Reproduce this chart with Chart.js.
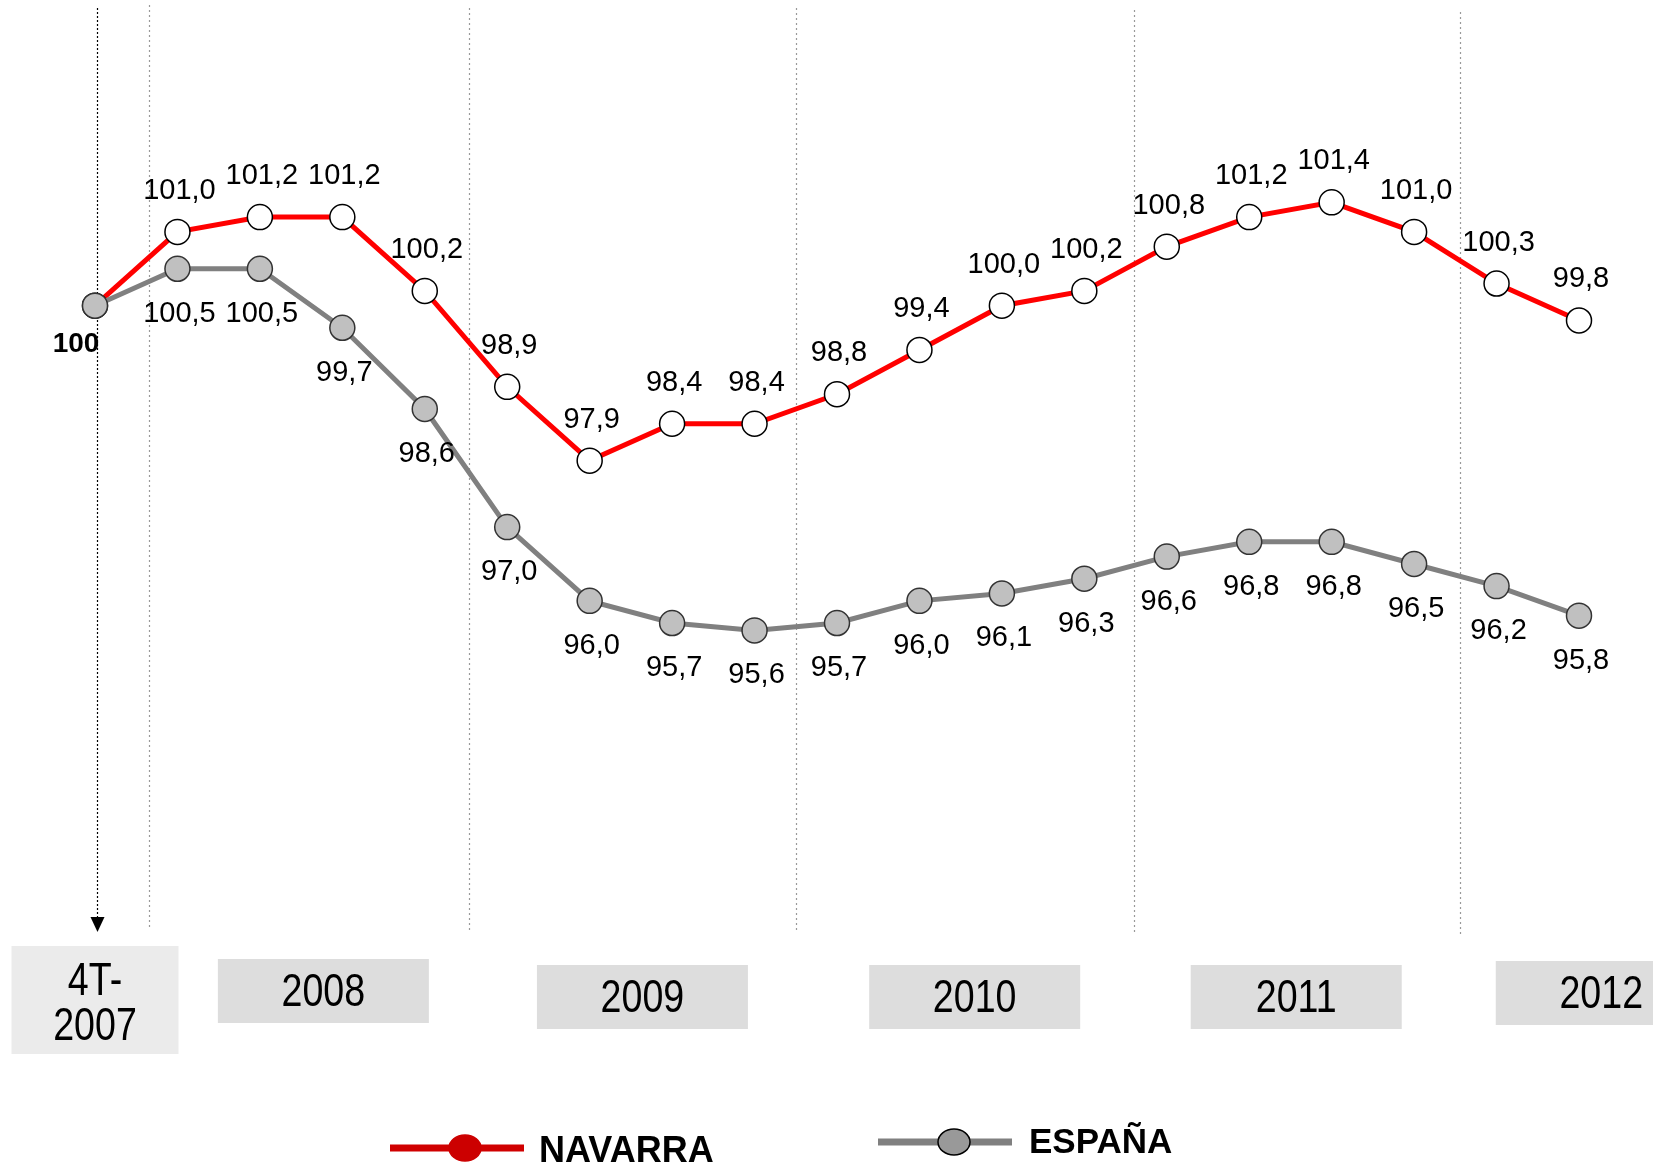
<!DOCTYPE html>
<html>
<head>
<meta charset="utf-8">
<script src="https://cdn.jsdelivr.net/npm/chart.js@4"></script>
<style>
  body { margin: 0; background: #fff; }
  #wrap { width: 1653px; height: 1164px; position: relative; }
</style>
</head>
<body>
<div id="wrap"><canvas id="myChart"></canvas></div>
<script>
// quarters from 4T-2007 to 2T-2012
const quarters = ['4T-2007',
  '1T-2008', '2T-2008', '3T-2008', '4T-2008',
  '1T-2009', '2T-2009', '3T-2009', '4T-2009',
  '1T-2010', '2T-2010', '3T-2010', '4T-2010',
  '1T-2011', '2T-2011', '3T-2011', '4T-2011',
  '1T-2012', '2T-2012'];
const navarra = [100, 101.0, 101.2, 101.2, 100.2, 98.9, 97.9, 98.4, 98.4, 98.8, 99.4, 100.0, 100.2, 100.8, 101.2, 101.4, 101.0, 100.3, 99.8];
const espana = [100, 100.5, 100.5, 99.7, 98.6, 97.0, 96.0, 95.7, 95.6, 95.7, 96.0, 96.1, 96.3, 96.6, 96.8, 96.8, 96.5, 96.2, 95.8];
const yearLabels = ['4T-\n2007', '2008', '2009', '2010', '2011', '2012'];
const seriesNames = ['NAVARRA', 'ESPAÑA'];

const fmt = v => v.toFixed(1).replace('.', ',');

const decorPlugin = {
    id: 'decor',
    beforeDatasetsDraw(chart) {
        const ctx = chart.ctx;
        const xs = chart.scales.x;
        const x0 = xs.getPixelForValue(0);
        const dx = xs.getPixelForValue(1) - x0;
        ctx.save();
        // year separators (gray dotted)
        ctx.strokeStyle = '#999';
        ctx.lineWidth = 1.2;
        ctx.setLineDash([2, 3]);
        [[0.65, 5, 928], [4.54, 8, 931], [8.5, 8, 931], [12.6, 10, 934], [16.56, 12, 936]].forEach(s => {
            const x = Math.round(x0 + s[0] * dx) + 0.5;
            ctx.beginPath();
            ctx.moveTo(x, s[1]);
            ctx.lineTo(x, s[2]);
            ctx.stroke();
        });
        // base arrow (black dotted)
        const ax = Math.round(x0 + 0.03 * dx) + 0.5;
        ctx.strokeStyle = '#000';
        ctx.setLineDash([2, 2]);
        ctx.beginPath();
        ctx.moveTo(ax, 8);
        ctx.lineTo(ax, 918);
        ctx.stroke();
        ctx.setLineDash([]);
        ctx.fillStyle = '#000';
        ctx.beginPath();
        ctx.moveTo(ax - 7, 917);
        ctx.lineTo(ax + 7, 917);
        ctx.lineTo(ax, 932);
        ctx.closePath();
        ctx.fill();
        ctx.restore();
    },
    afterDatasetsDraw(chart) {
        const ctx = chart.ctx;
        const xs = chart.scales.x;
        const x0 = xs.getPixelForValue(0);
        const dx = xs.getPixelForValue(1) - x0;
        ctx.save();

        // value labels
        ctx.fillStyle = '#000';
        ctx.textAlign = 'center';
        ctx.textBaseline = 'middle';
        ctx.font = '29px "Liberation Sans", Arial, sans-serif';
        const navMeta = chart.getDatasetMeta(1);
        const espMeta = chart.getDatasetMeta(0);
        navarra.forEach((v, i) => {
            if (i === 0) return;
            const p = navMeta.data[i];
            ctx.fillText(fmt(v), p.x + 2, p.y - 41);
        });
        espana.forEach((v, i) => {
            if (i === 0) return;
            const p = espMeta.data[i];
            ctx.fillText(fmt(v), p.x + 2, p.y + 45);
        });
        const p0 = espMeta.data[0];
        ctx.font = 'bold 28px "Liberation Sans", Arial, sans-serif';
        ctx.fillText('100', p0.x - 19, p0.y + 39);

        // year boxes
        const boxes = [
            { at: 0, w: 167, h: 108, cy: 1000, bg: '#ebebeb' },
            { at: 2.77, w: 211, h: 64, cy: 991, bg: '#dddddd' },
            { at: 6.64, w: 211, h: 64, cy: 997, bg: '#dddddd' },
            { at: 10.67, w: 211, h: 64, cy: 997, bg: '#dddddd' },
            { at: 14.57, w: 211, h: 64, cy: 997, bg: '#dddddd' },
            { at: 18.27, w: 211, h: 64, cy: 993, bg: '#dddddd' }
        ];
        yearLabels.forEach((lab, i) => {
            const b = boxes[i];
            const cx = x0 + b.at * dx;
            ctx.fillStyle = b.bg;
            ctx.fillRect(cx - b.w / 2, b.cy - b.h / 2, b.w, b.h);
            ctx.fillStyle = '#000';
            const lines = lab.split('\n');
            lines.forEach((ln, k) => {
                const ty = b.cy + (k - (lines.length - 1) / 2) * 45 + (lines.length > 1 ? 5 : 2);
                ctx.save();
                ctx.translate(cx, ty);
                ctx.scale(0.8, 1);
                ctx.font = '47px "Liberation Sans", Arial, sans-serif';
                ctx.fillText(ln, 0, 0);
                ctx.restore();
            });
        });

        // legend
        const leg = [
            { x1: 390, x2: 524, y: 1148, cx: 465, line: '#d00000', fill: '#cc0000', stroke: '#cc0000', tx: 539, ty: 1152, fs: 36 },
            { x1: 878, x2: 1012, y: 1142, cx: 954, line: '#808080', fill: '#999999', stroke: '#000', tx: 1029, ty: 1143, fs: 35 }
        ];
        leg.forEach((l, i) => {
            ctx.strokeStyle = l.line;
            ctx.lineWidth = 7;
            ctx.beginPath();
            ctx.moveTo(l.x1, l.y);
            ctx.lineTo(l.x2, l.y);
            ctx.stroke();
            ctx.fillStyle = l.fill;
            ctx.strokeStyle = l.stroke;
            ctx.lineWidth = 1.5;
            ctx.beginPath();
            ctx.ellipse(l.cx, l.y, 16, 13, 0, 0, Math.PI * 2);
            ctx.fill();
            ctx.stroke();
            ctx.fillStyle = '#000';
            ctx.textAlign = 'left';
            ctx.font = 'bold ' + l.fs + 'px "Liberation Sans", Arial, sans-serif';
            ctx.fillText(seriesNames[i], l.tx, l.ty);
        });
        ctx.restore();
    }
};

document.addEventListener('DOMContentLoaded', function () {
    const ctx = document.getElementById('myChart').getContext('2d');

    const config = {
        type: 'line',
        data: {
            labels: quarters,
            datasets: [{
                label: seriesNames[1],
                data: espana,
                borderColor: '#808080',
                borderWidth: 5,
                pointRadius: 12.5,
                pointHoverRadius: 12.5,
                pointBackgroundColor: '#c0c0c0',
                pointBorderColor: '#333',
                pointBorderWidth: 1.5,
                tension: 0,
                clip: false,
                order: 0
            }, {
                label: seriesNames[0],
                data: navarra,
                borderColor: '#ff0000',
                borderWidth: 5,
                pointRadius: 12.5,
                pointHoverRadius: 12.5,
                pointBackgroundColor: '#ffffff',
                pointBorderColor: '#000',
                pointBorderWidth: 1.5,
                tension: 0,
                clip: false,
                order: 1
            }]
        },
        options: {
            responsive: true,
            maintainAspectRatio: false,
            animation: false,
            layout: { autoPadding: false, padding: { left: 95, right: 74, top: 0, bottom: 230 } },
            scales: {
                x: { display: false, offset: false },
                y: { display: false, min: 91.486, max: 104.142 }
            },
            plugins: {
                legend: { display: false },
                tooltip: { enabled: false }
            }
        },
        plugins: [decorPlugin]
    };

    new Chart(ctx, config);
});
</script>
</body>
</html>
